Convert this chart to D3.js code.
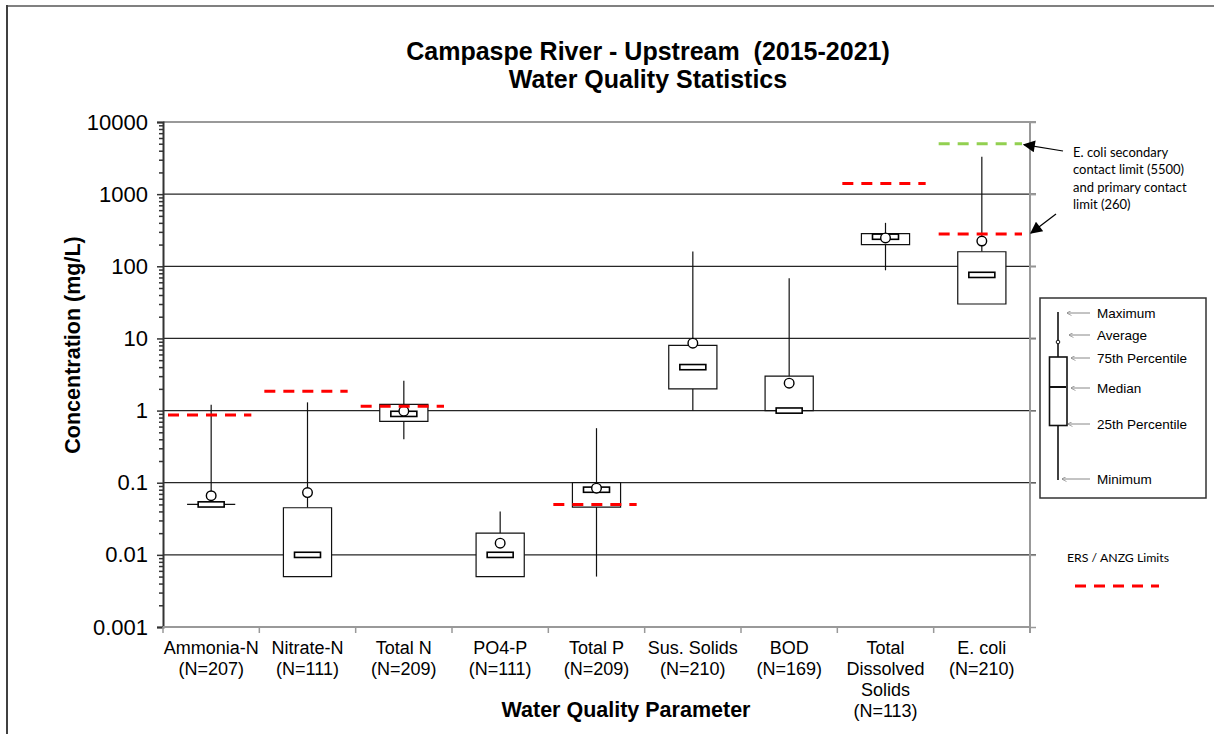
<!DOCTYPE html>
<html>
<head>
<meta charset="utf-8">
<script src="https://cdn.jsdelivr.net/npm/d3@7"></script>
<style>
  body { margin: 0; background: #fff; }
  svg { display: block; font-family: "Liberation Sans", Arial, sans-serif; }
</style>
</head>
<body>
<div id="chart"></div>
<script>
////// DATA
var categories = ["Ammonia-N", "Nitrate-N", "Total N", "PO4-P", "Total P", "Sus. Solids", "BOD", "Total Dissolved Solids", "E. coli"];
// label lines under each box (name split like the original)
var labelLines = [["Ammonia-N"], ["Nitrate-N"], ["Total N"], ["PO4-P"], ["Total P"], ["Sus. Solids"], ["BOD"], ["Total", "Dissolved", "Solids"], ["E. coli"]];
var nCounts = [207, 111, 209, 111, 209, 210, 169, 113, 210];

var minV  = [0.05, 0.005, 0.4,  0.005, 0.005, 1,   1,   88,  30];
var q1V   = [0.05, 0.005, 0.71, 0.005, 0.046, 2,   1,   200, 30];
var medV  = [0.05, 0.01,  0.9,  0.01,  0.08,  4,   1,   257, 76];
var q3V   = [0.05, 0.045, 1.22, 0.02,  0.1,   8,   3,   283, 159];
var maxV  = [1.2,  1.3,   2.6,  0.04,  0.57,  160, 68,  400, 3300];
var meanV = [0.066, 0.073, 0.98, 0.0145, 0.084, 8.6, 2.4, 247, 224];

// ERS / ANZG limits (red) and E. coli secondary contact (green)
var limitCats   = ["Ammonia-N", "Nitrate-N", "Total N", "Total P", "Total Dissolved Solids", "E. coli"];
var limitValues = [0.87, 1.85, 1.15, 0.05, 1400, 280];
var secondaryCats   = ["E. coli"];
var secondaryValues = [5000];

var yTicks = [0.001, 0.01, 0.1, 1, 10, 100, 1000, 10000];
var yTickLabels = ["0.001", "0.01", "0.1", "1", "10", "100", "1000", "10000"];

var legendLabels = ["Maximum", "Average", "75th Percentile", "Median", "25th Percentile", "Minimum"];

////// SETUP SVG
var W = 1214, H = 734;
var plot = { left: 163, right: 1030, top: 122, bottom: 627 };

var svg = d3.select("#chart").append("svg")
    .attr("width", W)
    .attr("height", H);

var defs = svg.append("defs");
defs.append("marker").attr("id", "arrowBig")
    .attr("viewBox", "0 0 10 10").attr("refX", 9).attr("refY", 5)
    .attr("markerWidth", 16).attr("markerHeight", 12).attr("markerUnits", "userSpaceOnUse")
    .attr("orient", "auto")
    .append("path").attr("d", "M0,0 L10,5 L0,10 z").attr("fill", "#000");
defs.append("marker").attr("id", "arrowGray")
    .attr("viewBox", "0 0 10 10").attr("refX", 9).attr("refY", 5)
    .attr("markerWidth", 5).attr("markerHeight", 5).attr("markerUnits", "userSpaceOnUse")
    .attr("orient", "auto")
    .append("path").attr("d", "M0,0 L10,5 L0,10").attr("fill", "none").attr("stroke", "#888").attr("stroke-width", 1.5);

// outer frame (top and left edges only)
svg.append("line").attr("x1", 6).attr("x2", W).attr("y1", 6).attr("y2", 6)
    .attr("stroke", "#808080").attr("stroke-width", 2);
svg.append("line").attr("x1", 7).attr("x2", 7).attr("y1", 5).attr("y2", H)
    .attr("stroke", "#404040").attr("stroke-width", 2);

////// SCALES
var x = d3.scaleBand().domain(categories).range([plot.left, plot.right]).padding(0);
var y = d3.scaleLog().domain([0.001, 10000]).range([plot.bottom, plot.top]);
var bw = x.bandwidth();
var boxW = bw / 2;

////// GRID
svg.append("g").selectAll("line")
    .data(yTicks.slice(1, -1))
    .enter().append("line")
    .attr("x1", plot.left).attr("x2", plot.right + 6)
    .attr("y1", d => y(d)).attr("y2", d => y(d))
    .attr("stroke", "#262626").attr("stroke-width", 1.2);

// plot border top / right
svg.append("line").attr("x1", plot.left).attr("x2", plot.right + 6)
    .attr("y1", plot.top).attr("y2", plot.top)
    .attr("stroke", "#999").attr("stroke-width", 2);
svg.append("line").attr("x1", plot.right).attr("x2", plot.right)
    .attr("y1", plot.top).attr("y2", plot.bottom + 6)
    .attr("stroke", "#999").attr("stroke-width", 2);

////// Y AXIS
var minorTicks = [];
yTicks.slice(0, -1).forEach(function(t) {
    for (var k = 2; k <= 9; k++) minorTicks.push(t * k);
});
svg.append("g")
    .attr("transform", "translate(" + plot.left + ",0)")
    .call(d3.axisLeft(y).tickValues(minorTicks).tickSize(4).tickFormat(""))
    .call(g => g.select(".domain").remove())
    .selectAll("line").attr("stroke", "#333").attr("stroke-width", 1.5);

var yAxis = svg.append("g")
    .attr("transform", "translate(" + plot.left + ",0)")
    .call(d3.axisLeft(y).tickValues(yTicks).tickSize(6).tickPadding(9)
        .tickFormat((d, i) => yTickLabels[i]));
yAxis.select(".domain").attr("stroke", "#333").attr("stroke-width", 2);
yAxis.selectAll("line").attr("stroke", "#333").attr("stroke-width", 1.5);
yAxis.selectAll("text")
    .attr("font-family", "Liberation Sans, Arial, sans-serif")
    .attr("font-size", "22px").attr("fill", "#000");

// right side ticks
svg.append("g")
    .attr("transform", "translate(" + plot.right + ",0)")
    .call(d3.axisRight(y).tickValues(yTicks).tickSize(6).tickFormat(""))
    .call(g => g.select(".domain").remove())
    .selectAll("line").attr("stroke", "#999").attr("stroke-width", 1.5);

svg.append("text")
    .attr("transform", "translate(80,345) rotate(-90)")
    .attr("text-anchor", "middle")
    .attr("font-size", "21.5px").attr("font-weight", "bold")
    .text("Concentration (mg/L)");

////// X AXIS
svg.append("line").attr("x1", plot.left).attr("x2", plot.right)
    .attr("y1", plot.bottom).attr("y2", plot.bottom)
    .attr("stroke", "#999").attr("stroke-width", 2);
var bounds = categories.map(c => x(c)).concat([x.range()[1]]);
svg.append("g").selectAll("line")
    .data(bounds)
    .enter().append("line")
    .attr("x1", d => d).attr("x2", d => d)
    .attr("y1", plot.bottom).attr("y2", plot.bottom + 6)
    .attr("stroke", "#999").attr("stroke-width", 1.5);

var xLabels = svg.append("g").selectAll("text")
    .data(categories)
    .enter().append("text")
    .attr("text-anchor", "middle")
    .attr("font-size", "18px")
    .attr("x", d => x(d) + bw / 2)
    .attr("y", 654);
xLabels.each(function(d, i) {
    var t = d3.select(this);
    var lines = labelLines[i].concat(["(N=" + nCounts[i] + ")"]);
    lines.forEach(function(l, j) {
        t.append("tspan")
            .attr("x", x(d) + bw / 2)
            .attr("dy", j === 0 ? 0 : 21)
            .text(l);
    });
});

svg.append("text")
    .attr("x", 626).attr("y", 717)
    .attr("text-anchor", "middle")
    .attr("font-size", "21.5px").attr("font-weight", "bold")
    .text("Water Quality Parameter");

////// TITLE
svg.append("text").attr("x", 648).attr("y", 60)
    .attr("text-anchor", "middle").attr("font-size", "25px").attr("font-weight", "bold")
    .attr("xml:space", "preserve")
    .text("Campaspe River - Upstream  (2015-2021)");
svg.append("text").attr("x", 648).attr("y", 88)
    .attr("text-anchor", "middle").attr("font-size", "25px").attr("font-weight", "bold")
    .text("Water Quality Statistics");

////// BOX PLOTS
var rows = categories.map((c, i) => ({
    cat: c, min: minV[i], q1: q1V[i], med: medV[i], q3: q3V[i], max: maxV[i], mean: meanV[i]
}));

var boxes = svg.append("g").selectAll("g")
    .data(rows)
    .enter().append("g")
    .attr("transform", d => "translate(" + (x(d.cat) + bw / 2) + ",0)");

// whiskers
boxes.append("line")
    .attr("x1", 0).attr("x2", 0)
    .attr("y1", d => y(d.q3)).attr("y2", d => y(d.max))
    .attr("stroke", "#111").attr("stroke-width", 1.2);
boxes.append("line")
    .attr("x1", 0).attr("x2", 0)
    .attr("y1", d => y(d.q1)).attr("y2", d => y(d.min))
    .attr("stroke", "#111").attr("stroke-width", 1.2);

// box (path so that a collapsed box still shows as a line)
boxes.append("path")
    .attr("d", d => "M" + (-boxW / 2) + "," + y(d.q3) + "H" + (boxW / 2) +
        "V" + y(d.q1) + "H" + (-boxW / 2) + "Z")
    .attr("fill", "#fff").attr("stroke", "#111").attr("stroke-width", 1.2);

// median marker
boxes.append("rect")
    .attr("x", -13).attr("width", 26)
    .attr("y", d => y(d.med) - 2.6).attr("height", 5.2)
    .attr("fill", "#fff").attr("stroke", "#000").attr("stroke-width", 1.6);

// mean marker
boxes.append("circle")
    .attr("cx", 0).attr("cy", d => y(d.mean)).attr("r", 4.8)
    .attr("fill", "#fff").attr("stroke", "#000").attr("stroke-width", 1.4);

////// LIMIT LINES
function limitLine(cat, v, color) {
    svg.append("line")
        .attr("x1", x(cat) + 5).attr("x2", x(cat) + bw - 8)
        .attr("y1", y(v)).attr("y2", y(v))
        .attr("stroke", color).attr("stroke-width", 3)
        .attr("stroke-dasharray", "11,8");
}
limitCats.forEach((c, i) => limitLine(c, limitValues[i], "#ff0000"));
secondaryCats.forEach((c, i) => limitLine(c, secondaryValues[i], "#92d050"));

////// ANNOTATION
var ann = svg.append("text")
    .attr("font-family", "Lato, 'Open Sans', sans-serif")
    .attr("font-size", "13px").attr("fill", "#000");
["E. coli secondary", "contact limit (5500)", "and primary contact", "limit (260)"].forEach(function(l, j) {
    ann.append("tspan").attr("x", 1073).attr("y", 157 + j * 17.3).text(l);
});
svg.append("line")
    .attr("x1", 1063).attr("y1", 151).attr("x2", plot.right - 6).attr("y2", y(secondaryValues[0]) + 1)
    .attr("stroke", "#000").attr("stroke-width", 1.2).attr("marker-end", "url(#arrowBig)");
svg.append("line")
    .attr("x1", 1056).attr("y1", 214).attr("x2", plot.right + 1).attr("y2", y(limitValues[5]) - 1)
    .attr("stroke", "#000").attr("stroke-width", 1.2).attr("marker-end", "url(#arrowBig)");

////// BOX LEGEND
var lg = svg.append("g");
lg.append("rect").attr("x", 1040).attr("y", 298).attr("width", 166).attr("height", 200)
    .attr("fill", "#fff").attr("stroke", "#333").attr("stroke-width", 1.5);
lg.append("line").attr("x1", 1058).attr("x2", 1058).attr("y1", 312).attr("y2", 480)
    .attr("stroke", "#111").attr("stroke-width", 1.6);
lg.append("rect").attr("x", 1049.5).attr("y", 357).attr("width", 17.5).attr("height", 68.5)
    .attr("fill", "#fff").attr("stroke", "#111").attr("stroke-width", 1.6);
lg.append("line").attr("x1", 1050).attr("x2", 1066).attr("y1", 387).attr("y2", 387)
    .attr("stroke", "#111").attr("stroke-width", 2);
lg.append("circle").attr("cx", 1058).attr("cy", 342).attr("r", 1.8)
    .attr("fill", "#fff").attr("stroke", "#111").attr("stroke-width", 1);

var legendY = [313, 335, 358, 388, 424, 479];
var legendArrowX = [1067, 1069, 1071, 1071, 1068, 1062];
legendLabels.forEach(function(l, i) {
    lg.append("line")
        .attr("x1", 1090).attr("x2", legendArrowX[i])
        .attr("y1", legendY[i]).attr("y2", legendY[i])
        .attr("stroke", "#888").attr("stroke-width", 1)
        .attr("marker-end", "url(#arrowGray)");
    lg.append("text")
        .attr("x", 1097).attr("y", legendY[i] + 5)
        .attr("font-size", "13.5px").attr("fill", "#000")
        .text(l);
});

////// LIMITS LEGEND
svg.append("text")
    .attr("x", 1067).attr("y", 562)
    .attr("font-family", "Lato, 'Open Sans', sans-serif")
    .attr("font-size", "12.3px").attr("fill", "#000")
    .text("ERS / ANZG Limits");
svg.append("line")
    .attr("x1", 1075).attr("x2", 1159).attr("y1", 586).attr("y2", 586)
    .attr("stroke", "#ff0000").attr("stroke-width", 3)
    .attr("stroke-dasharray", "11,8");
</script>
</body>
</html>
